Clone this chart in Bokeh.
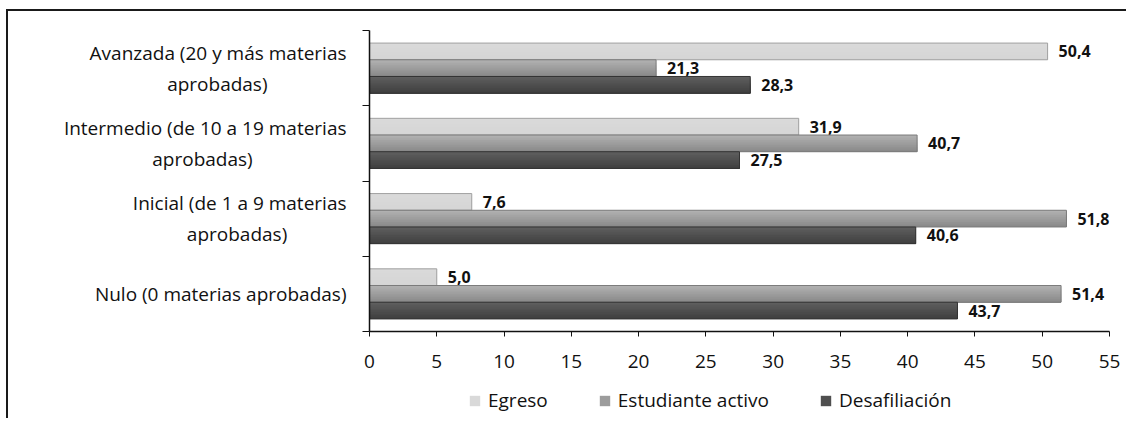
from bokeh.plotting import figure
from bokeh.layouts import column
from bokeh.models import FixedTicker, Legend, LegendItem, ColumnDataSource
from bokeh.core.properties import value
from bokeh.embed import file_html
from bokeh.resources import INLINE

categories = ["Nulo (0 materias aprobadas)",
              "Inicial (de 1 a 9 materias\naprobadas)",
              "Intermedio (de 10 a 19 materias\naprobadas)",
              "Avanzada (20 y más materias\naprobadas)"]
series = ["Egreso", "Estudiante activo", "Desafiliación"]
egreso = [5.0, 7.6, 31.9, 50.4]
activo = [51.4, 51.8, 40.7, 21.3]
desafiliacion = [43.7, 40.6, 27.5, 28.3]
x_ticks = [0, 5, 10, 15, 20, 25, 30, 35, 40, 45, 50, 55]

# trailing no-break spaces so that the second label line sits centred (style only)
line2_pad = [0, 12, 19, 16]

values = [egreso, activo, desafiliacion]
# gradient colour stops (top -> bottom) per series
grad = [((0xda, 0xda, 0xda), (0xd5, 0xd5, 0xd5)),
        ((0xb0, 0xb0, 0xb0), (0x8a, 0x8a, 0x8a)),
        ((0x5e, 0x5e, 0x5e), (0x40, 0x40, 0x40))]
swatch = ["#d9d9d9", "#9c9c9c", "#4f4f4f"]
edge = ["#a0a0a0", "#7a7a7a", "#333333"]

FONT = "Open Sans"
FS = "19px"
BORDER = "2px solid #1a1a1a"

p = figure(width=1120, height=370, output_backend="svg", toolbar_location=None,
           x_range=(0, 55), y_range=(0, 4),
           min_border_left=361, min_border_right=19, min_border_top=19, min_border_bottom=50)
p.styles = {"border-left": BORDER, "border-top": BORDER}
p.outline_line_color = None
p.grid.grid_line_color = None
p.background_fill_color = "white"

bar_h = 0.222
offsets = [bar_h, 0.0, -bar_h]
N = 10
centers = [i + 0.5 for i in range(len(categories))]
for s, (name, vals) in enumerate(zip(series, values)):
    yc = [c + offsets[s] for c in centers]
    c0, c1 = grad[s]
    for k in range(N):
        t = k / (N - 1)
        col = "#%02x%02x%02x" % tuple(int(round(a + (b - a) * t)) for a, b in zip(c0, c1))
        frac = 1.0 - k / N           # strip from its top down to the bar bottom
        ys = [y - bar_h / 2 + frac * bar_h / 2 for y in yc]
        p.hbar(y=ys, left=0, right=vals, height=frac * bar_h,
               fill_color=col, line_color=None)
    p.hbar(y=yc, left=0, right=vals, height=bar_h, fill_color=None,
           line_color=edge[s], line_width=1)
    labels = [("%.1f" % v).replace(".", ",") for v in vals]
    src = ColumnDataSource(dict(x=vals, y=yc, t=labels))
    p.text(x="x", y="y", text="t", source=src, x_offset=11, text_baseline="middle",
           text_align="left", text_font=value(FONT), text_font_style="bold",
           text_font_size="16px", text_color="#111111")

# x axis
xa = p.xaxis[0]
xa.ticker = FixedTicker(ticks=x_ticks)
xa.major_label_text_font = FONT
xa.major_label_text_font_size = FS
xa.major_label_text_color = "#111111"
xa.major_tick_out = 5
xa.major_tick_in = 0
xa.minor_tick_line_color = None
xa.axis_line_color = "#111111"
xa.major_tick_line_color = "#111111"
xa.axis_line_width = 1.5
xa.major_label_standoff = 18

ya = p.yaxis[0]
ya.ticker = FixedTicker(ticks=centers, minor_ticks=[0, 1, 2, 3, 4])
ya.major_label_overrides = {c: lab + "\u00a0" * pad
                            for c, lab, pad in zip(centers, categories, line2_pad)}
ya.major_tick_line_color = None
ya.minor_tick_line_color = "#111111"
ya.minor_tick_out = 7
ya.minor_tick_in = 0
ya.axis_line_color = "#111111"
ya.axis_line_width = 1.5
ya.major_label_text_font = FONT
ya.major_label_text_font_size = FS
ya.major_label_text_color = "#111111"
ya.major_label_standoff = 16

# legend strip below the chart (its frame is aligned with the chart's frame)
lf = figure(width=1120, height=39, output_backend="svg", toolbar_location=None,
            x_range=(0, 1), y_range=(0, 1), min_border=0)
lf.styles = {"border-left": BORDER}
lf.axis.visible = False
lf.grid.grid_line_color = None
lf.outline_line_color = None
items = []
for s, name in enumerate(series):
    r = lf.hbar(y=[-5], left=[0], right=[0], height=0.5, fill_color=swatch[s], line_color=None)
    items.append(LegendItem(label=name, renderers=[r]))
legend = Legend(items=items, orientation="horizontal", location=(99, 5),
                label_text_font=FONT, label_text_font_size=FS, label_text_color="#111111",
                glyph_width=13, glyph_height=13, label_standoff=7, spacing=50,
                border_line_color=None, background_fill_alpha=0, padding=0, margin=0)
lf.add_layout(legend, "center")

layout = column(p, lf, spacing=0)
layout.styles = {"margin-left": "6px", "margin-top": "9px"}

open("out.html", "w").write(file_html(layout, INLINE))
